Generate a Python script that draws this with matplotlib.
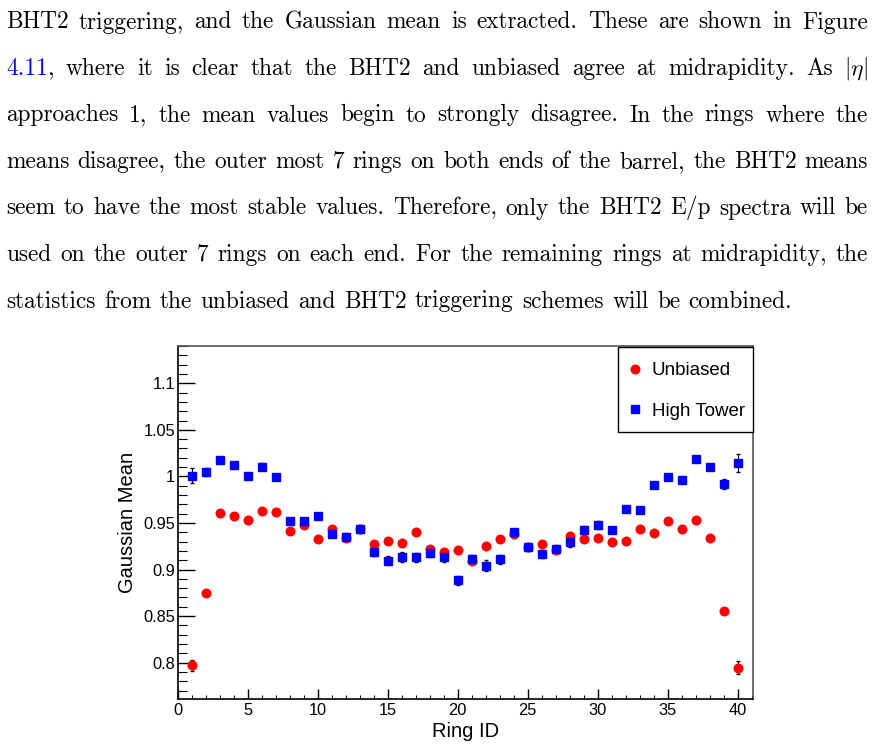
import matplotlib
matplotlib.use("Agg")
import matplotlib.pyplot as plt
from matplotlib.patches import Rectangle
from matplotlib.ticker import MultipleLocator
import numpy as np

W, H = 873, 749

# ---- paragraph text (page above the figure) ----
text_lines = [
    "BHT2 triggering, and the Gaussian mean is extracted.  These are shown in Figure",
    "4.11, where it is clear that the BHT2 and unbiased agree at midrapidity.  As |eta|",
    "approaches 1, the mean values begin to strongly disagree.  In the rings where the",
    "means disagree, the outer most 7 rings on both ends of the barrel, the BHT2 means",
    "seem to have the most stable values. Therefore, only the BHT2 E/p spectra will be",
    "used on the outer 7 rings on each end. For the remaining rings at midrapidity, the",
    "statistics from the unbiased and BHT2 triggering schemes will be combined.",
]

# ---- data ----
rings = np.arange(1, 41)
unbiased = [0.797, 0.8745, 0.961, 0.958, 0.953, 0.9625, 0.962, 0.941, 0.948, 0.933,
            0.944, 0.934, 0.943, 0.927, 0.931, 0.929, 0.940, 0.922, 0.9185, 0.9205,
            0.909, 0.9255, 0.933, 0.938, 0.924, 0.927, 0.921, 0.9355, 0.933, 0.934,
            0.9295, 0.9305, 0.944, 0.939, 0.9525, 0.944, 0.9535, 0.9335, 0.856, 0.7945]
unbiased_err = [0.006, 0.002, 0.002, 0.002, 0.002, 0.002, 0.002, 0.002, 0.002, 0.002,
                0.002, 0.002, 0.002, 0.002, 0.002, 0.002, 0.002, 0.002, 0.002, 0.002,
                0.002, 0.002, 0.002, 0.002, 0.002, 0.002, 0.002, 0.002, 0.002, 0.002,
                0.002, 0.002, 0.002, 0.002, 0.002, 0.002, 0.002, 0.002, 0.003, 0.007]
high_tower = [1.0005, 1.0045, 1.018, 1.0125, 1.0005, 1.0105, 0.999, 0.9525, 0.9525, 0.958,
              0.9385, 0.935, 0.9435, 0.919, 0.9095, 0.9135, 0.913, 0.918, 0.9135, 0.8885,
              0.911, 0.904, 0.911, 0.940, 0.924, 0.9165, 0.9225, 0.9295, 0.9425, 0.948,
              0.9425, 0.9645, 0.964, 0.9905, 0.9995, 0.996, 1.019, 1.0105, 0.992, 1.0145]
high_tower_err = [0.008, 0.004, 0.003, 0.003, 0.003, 0.004, 0.003, 0.003, 0.003, 0.003,
                  0.004, 0.004, 0.004, 0.004, 0.005, 0.005, 0.005, 0.005, 0.005, 0.005,
                  0.005, 0.006, 0.005, 0.004, 0.004, 0.004, 0.004, 0.005, 0.004, 0.004,
                  0.003, 0.003, 0.003, 0.003, 0.003, 0.003, 0.003, 0.003, 0.005, 0.010]

plt.rcParams['mathtext.fontset'] = 'cm'

fig = plt.figure(figsize=(W / 100, H / 100), dpi=100)
renderer = fig.canvas.get_renderer()

TEXT_SIZE = 16.8
X0, X1 = 6, 868
BASE0, LEAD = 28.5, 46.5


def make_word(word, x, y_fig):
    kw = dict(fontsize=TEXT_SIZE, va='baseline', ha='left')
    if word == "|eta|":
        return [fig.text(x, y_fig, r"$|\eta|$", **kw)]
    if word == "4.11,":
        a = fig.text(x, y_fig, "4.11", family='cmr10', color='#0000ee', **kw)
        w = a.get_window_extent(renderer).width / W
        b = fig.text(x + w, y_fig, ",", family='cmr10', **kw)
        return [a, b]
    return [fig.text(x, y_fig, word, family='cmr10', **kw)]


def width_of(artists):
    ext = [a.get_window_extent(renderer) for a in artists]
    return max(e.x1 for e in ext) - min(e.x0 for e in ext)


for i, line in enumerate(text_lines):
    y_fig = 1 - (BASE0 + i * LEAD) / H
    words = line.split()
    placed = [make_word(w, 0, y_fig) for w in words]
    widths = [width_of(p) for p in placed]
    last = i == len(text_lines) - 1
    if last:
        gap = 8.5
    else:
        gap = (X1 - X0 - sum(widths)) / (len(words) - 1)
    x = X0
    for p, w in zip(placed, widths):
        for a in p:
            px, py = a.get_position()
            a.set_position((px + x / W, py))
        x += w + gap

# ---- plot ----
ax = fig.add_axes([178 / W, 1 - 699 / H, 575 / W, 353 / H])
ax.errorbar(rings, unbiased, yerr=unbiased_err, fmt='o', color='red', ms=6.2,
            ecolor='black', elinewidth=0.8, capsize=1.5, label='Unbiased')
ax.errorbar(rings, high_tower, yerr=high_tower_err, fmt='s', color='blue', ms=6.0,
            ecolor='black', elinewidth=0.8, capsize=1.5, label='High Tower')

ax.set_xlim(0, 41.1)
ax.set_ylim(0.761, 1.140)
ax.xaxis.set_major_locator(MultipleLocator(5))
ax.xaxis.set_minor_locator(MultipleLocator(1))
ax.yaxis.set_major_locator(MultipleLocator(0.05))
ax.yaxis.set_minor_locator(MultipleLocator(0.01))
ax.yaxis.set_major_formatter(plt.FuncFormatter(lambda v, p: ('%.2f' % v).rstrip('0').rstrip('.')))
ax.tick_params(axis='y', which='major', direction='in', length=12.5, width=1.0, pad=2,
               labelsize=11.8, right=False)
ax.tick_params(axis='y', which='minor', direction='in', length=6.5, width=0.8, right=False)
ax.tick_params(axis='x', which='major', direction='in', length=7.2, width=1.0, pad=3,
               labelsize=11.8, top=False)
ax.tick_params(axis='x', which='minor', direction='in', length=3.2, width=0.8, top=False)
for lab in ax.get_xticklabels() + ax.get_yticklabels():
    lab.set_family('Liberation Sans')
for side in ['left', 'bottom']:
    ax.spines[side].set_linewidth(1.2)
    ax.spines[side].set_color('black')
for side in ['top', 'right']:
    ax.spines[side].set_linewidth(1.2)
    ax.spines[side].set_color('#555555')

ax.set_xlabel('Ring ID', family='Liberation Sans', fontsize=14.5, labelpad=3)
ax.set_ylabel('Gaussian Mean', family='Liberation Sans', fontsize=14.5, labelpad=4.5)

# legend box (ROOT style, flush with the top-right corner of the frame)
box = Rectangle((618 / W, 1 - 432 / H), 135 / W, 85 / H, transform=fig.transFigure,
                facecolor='white', edgecolor='black', linewidth=1.0, zorder=5)
fig.add_artist(box)

handles, labels = ax.get_legend_handles_labels()
handles = [h[0] for h in handles]
leg = fig.legend(handles, labels, loc='upper left',
                 bbox_to_anchor=(627.5 / W, 1 - 362 / H), frameon=False,
                 borderaxespad=0, borderpad=0,
                 prop={'family': 'Liberation Sans', 'size': 13.5}, handlelength=0.8,
                 handletextpad=0.5, labelspacing=1.25)
leg.set_zorder(6)

fig.savefig('out.png', dpi=100)
